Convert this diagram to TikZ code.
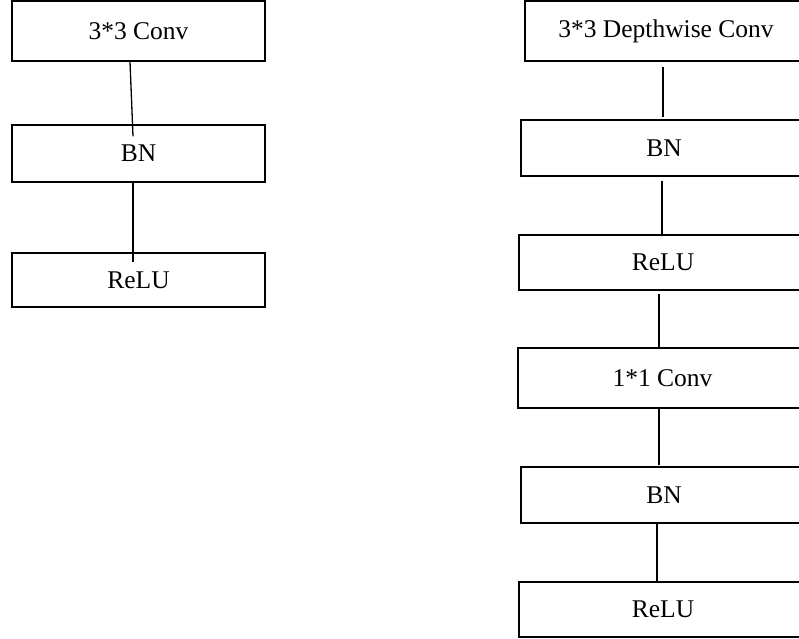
\documentclass[tikz,border=0pt]{standalone}
\usepackage{fontspec}
\setmainfont{Liberation Serif}
\begin{document}
\begin{tikzpicture}[x=1pt,y=-1pt,
  blk/.style={draw=black, line width=1.4pt, rectangle, inner sep=0pt, font=\fontsize{25.5}{28}\selectfont},
  conn/.style={draw=black, line width=1.3pt}]
\useasboundingbox (0,0) rectangle (799,638);
\clip (0,0) rectangle (799,638);
% left column
\node[blk, minimum width=253pt, minimum height=60pt] (c33) at (138.5,31) {3*3 Conv};
\node[blk, minimum width=253pt, minimum height=57pt] (bnL) at (138.5,153.5) {BN};
\node[blk, minimum width=253pt, minimum height=54pt] (reL) at (138.5,280) {ReLU};
% right column
\node[blk, minimum width=282pt, minimum height=60pt] (dw) at (666,31) {3*3 Depthwise Conv};
\node[blk, minimum width=286pt, minimum height=56pt] (bn1) at (664,148) {BN};
\node[blk, minimum width=288pt, minimum height=55pt] (re1) at (663,262.5) {ReLU};
\node[blk, minimum width=289pt, minimum height=60pt] (c11) at (662.5,378) {1*1 Conv};
\node[blk, minimum width=286pt, minimum height=56pt] (bn2) at (664,495) {BN};
\node[blk, minimum width=288pt, minimum height=55pt] (re2) at (663,609.5) {ReLU};
% connectors left
\draw[conn] ([xshift=-8.5pt]c33.south) -- ([xshift=-5.5pt,yshift=-12pt]bnL.north);
\draw[conn] ([xshift=-5.5pt,yshift=2pt]bnL.south) -- ([xshift=-5.5pt,yshift=-10pt]reL.north);
% connectors right
\draw[conn] ([xshift=-3pt,yshift=-5pt]dw.south) -- ([xshift=-1pt,yshift=2pt]bn1.north);
\draw[conn] ([xshift=-2pt,yshift=-4pt]bn1.south) -- ([xshift=-1pt]re1.north);
\draw[conn] ([xshift=-4pt,yshift=-3pt]re1.south) -- ([xshift=-3.5pt]c11.north);
\draw[conn] ([xshift=-3.5pt]c11.south) -- ([xshift=-5pt,yshift=1pt]bn2.north);
\draw[conn] ([xshift=-7pt]bn2.south) -- ([xshift=-6pt]re2.north);
\end{tikzpicture}
\end{document}
